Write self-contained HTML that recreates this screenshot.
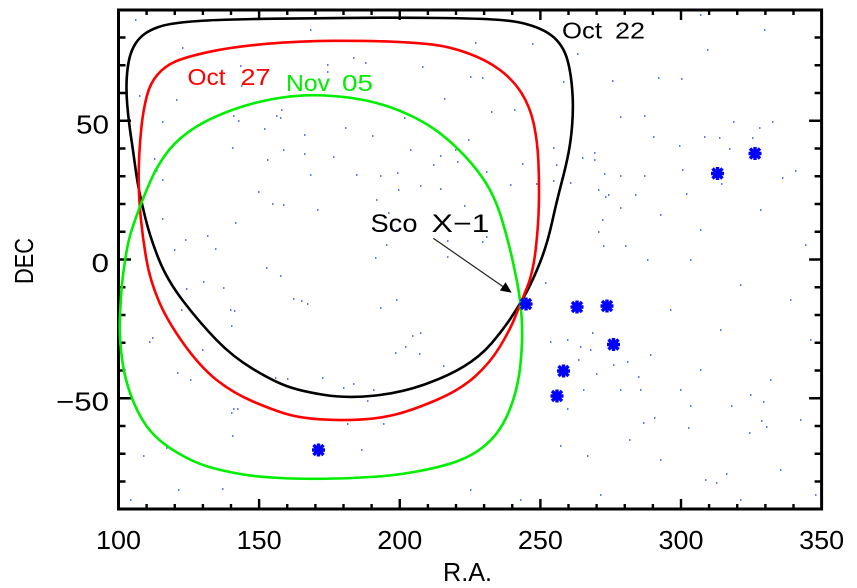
<!DOCTYPE html>
<html><head><meta charset="utf-8"><style>
html,body{margin:0;padding:0;background:#fff;}
svg{display:block;}
text{font-family:"Liberation Sans","DejaVu Sans",sans-serif;}
</style></head><body>
<svg width="857" height="588" viewBox="0 0 857 588" xmlns="http://www.w3.org/2000/svg">
<rect width="857" height="588" fill="#fff"/>
<defs>
<g id="st" stroke="#0000ff" stroke-width="3.4" fill="none">
<path d="M-6.5 0h13M0 -6.5v13M-5 -5l10 10M-5 5l10 -10"/>
</g>
</defs>
<!-- background dots -->
<path stroke="#4a66ff" stroke-width="1.7" fill="none" d="M182 48h1.5M139 96h1.5M176 100h1.5M162 122h1.5M240 66h1.5M241 86h1.5M233 116h1.5M238 121h1.5M281 110h1.5M276 116h1.5M280 118h1.5M264 129h1.5M232 148h1.5M283 150h1.5M267 160h1.5M154 159h1.5M156 171h1.5M162 180h1.5M143 456h1.5M166 448h1.5M222 489h1.5M231 413h1.5M233 409h1.5M237 409h1.5M232 436h1.5M560 446h1.5M587 456h1.5M629 440h1.5M643 423h1.5M654 418h1.5M690 406h1.5M688 428h1.5M731 406h1.5M763 402h1.5M761 421h1.5M766 427h1.5M749 433h1.5M716 483h1.5M726 474h1.5M475 43h1.5M532 44h1.5M353 58h1.5M365 63h1.5M327 65h1.5M327 72h1.5M422 67h1.5M470 77h1.5M482 78h1.5M444 99h1.5M491 112h1.5M514 110h1.5M404 118h1.5M345 128h1.5M372 136h1.5M304 135h1.5M304 154h1.5M468 140h1.5M455 150h1.5M440 156h1.5M457 162h1.5M410 150h1.5M333 157h1.5M310 175h1.5M380 176h1.5M356 175h1.5M397 173h1.5M433 165h1.5M486 172h1.5M522 164h1.5M553 181h1.5M582 158h1.5M594 153h1.5M570 183h1.5M604 174h1.5M420 186h1.5M440 189h1.5M510 185h1.5M536 184h1.5M598 190h1.5M608 195h1.5M620 208h1.5M464 206h1.5M486 237h1.5M482 242h1.5M447 241h1.5M447 257h1.5M598 232h1.5M602 220h1.5M603 246h1.5M625 246h1.5M647 260h1.5M545 283h1.5M550 342h1.5M567 340h1.5M592 333h1.5M590 350h1.5M578 360h1.5M580 347h1.5M412 336h1.5M420 333h1.5M405 347h1.5M419 354h1.5M443 366h1.5M560 397h1.5M567 409h1.5M596 374h1.5M613 365h1.5M627 362h1.5M638 377h1.5M620 390h1.5M640 390h1.5M583 390h1.5M258 192h1.5M272 204h1.5M283 205h1.5M317 210h1.5M185 240h1.5M235 223h1.5M215 249h1.5M207 236h1.5M162 219h1.5M174 250h1.5M203 282h1.5M186 289h1.5M223 288h1.5M230 310h1.5M301 301h1.5M307 304h1.5M231 326h1.5M234 311h1.5M181 310h1.5M152 338h1.5M149 342h1.5M202 350h1.5M177 373h1.5M190 380h1.5M234 392h1.5M275 378h1.5M287 379h1.5M322 378h1.5M343 388h1.5M353 384h1.5M373 390h1.5M367 401h1.5M383 424h1.5M361 450h1.5M347 424h1.5M386 245h1.5M376 200h1.5M388 213h1.5M396 230h1.5M398 190h1.5M375 258h1.5M380 308h1.5M396 300h1.5M395 353h1.5M266 268h1.5M280 276h1.5M293 299h1.5M764 30h1.5M707 50h1.5M577 54h1.5M563 82h1.5M612 81h1.5M658 78h1.5M681 79h1.5M620 117h1.5M644 116h1.5M653 137h1.5M733 122h1.5M759 128h1.5M772 122h1.5M679 146h1.5M704 137h1.5M719 138h1.5M729 149h1.5M752 138h1.5M594 160h1.5M553 148h1.5M556 165h1.5M620 176h1.5M721 184h1.5M682 170h1.5M644 176h1.5M795 171h1.5M782 178h1.5M686 194h1.5M635 195h1.5M605 197h1.5M660 215h1.5M700 230h1.5M760 210h1.5M805 245h1.5M690 260h1.5M740 285h1.5M790 300h1.5M670 310h1.5M720 330h1.5M810 340h1.5M650 355h1.5M700 370h1.5M770 380h1.5M680 390h1.5M750 395h1.5M800 420h1.5M660 460h1.5M705 480h1.5M780 470h1.5M815 495h1.5M740 500h1.5M130 500h1.5M178 490h1.5M470 490h1.5M520 500h1.5M600 495h1.5M135 20h1.5M310 30h1.5M620 30h1.5M700 15h1.5"/>
<!-- frame -->
<rect x="118.5" y="10" width="703.1" height="499" fill="none" stroke="#000" stroke-width="3"/>
<!-- ticks -->
<path stroke="#000" stroke-width="2.4" fill="none" d="
M259.1 509v-10M399.75 509v-10M540.4 509v-10M681 509v-10
M146.6 509v-5M174.75 509v-5M202.9 509v-5M231 509v-5M287.25 509v-5M315.4 509v-5M343.5 509v-5M371.6 509v-5M427.9 509v-5M456 509v-5M484.1 509v-5M512.25 509v-5M568.5 509v-5M596.6 509v-5M624.75 509v-5M652.9 509v-5M709.1 509v-5M737.25 509v-5M765.4 509v-5M793.5 509v-5
M259.1 10v10M399.75 10v10M540.4 10v10M681 10v10
M146.6 10v5M174.75 10v5M202.9 10v5M231 10v5M287.25 10v5M315.4 10v5M343.5 10v5M371.6 10v5M427.9 10v5M456 10v5M484.1 10v5M512.25 10v5M568.5 10v5M596.6 10v5M624.75 10v5M652.9 10v5M709.1 10v5M737.25 10v5M765.4 10v5M793.5 10v5
M118.5 120.75h12.5M118.5 259.5h12.5M118.5 398.25h12.5
M118.5 37.5h7M118.5 65.25h7M118.5 93h7M118.5 148.5h7M118.5 176.25h7M118.5 204h7M118.5 231.75h7M118.5 287.25h7M118.5 315h7M118.5 342.75h7M118.5 370.5h7M118.5 426h7M118.5 453.75h7M118.5 481.5h7
M821.6 120.75h-12.5M821.6 259.5h-12.5M821.6 398.25h-12.5
M821.6 37.5h-7M821.6 65.25h-7M821.6 93h-7M821.6 148.5h-7M821.6 176.25h-7M821.6 204h-7M821.6 231.75h-7M821.6 287.25h-7M821.6 315h-7M821.6 342.75h-7M821.6 370.5h-7M821.6 426h-7M821.6 453.75h-7M821.6 481.5h-7"/>
<!-- tick labels -->
<g font-size="26" fill="#000" text-anchor="middle">
<text x="118.5" y="549" textLength="45" lengthAdjust="spacingAndGlyphs">100</text>
<text x="259.1" y="549" textLength="45" lengthAdjust="spacingAndGlyphs">150</text>
<text x="399.75" y="549" textLength="45" lengthAdjust="spacingAndGlyphs">200</text>
<text x="540.4" y="549" textLength="45" lengthAdjust="spacingAndGlyphs">250</text>
<text x="681" y="549" textLength="45" lengthAdjust="spacingAndGlyphs">300</text>
<text x="821.6" y="549" textLength="45" lengthAdjust="spacingAndGlyphs">350</text>
</g>
<g font-size="26" fill="#000" text-anchor="end">
<text x="109" y="133.5" textLength="33" lengthAdjust="spacingAndGlyphs">50</text>
<text x="109" y="272" textLength="17.5" lengthAdjust="spacingAndGlyphs">0</text>
<text x="109" y="410.5" textLength="53" lengthAdjust="spacingAndGlyphs">−50</text>
</g>
<text x="467.5" y="581" font-size="26" text-anchor="middle" textLength="49" lengthAdjust="spacingAndGlyphs">R.A.</text>
<text transform="translate(33,261) rotate(-90)" font-size="26" text-anchor="middle" textLength="46" lengthAdjust="spacingAndGlyphs">DEC</text>
<!-- curves -->
<path fill="none" stroke="#000" stroke-width="2.6" d="M127.25 105 Q126 90 126.75 78 Q127.5 66 129.5 58 Q131.5 50 135.25 44 Q139 38 144.5 34 Q150 30 158.5 27 Q167 24 183.5 22.25 Q200 20.5 225 19.75 Q250 19 275 18.65 Q300 18.3 350 17.9 Q400 17.5 440 18 Q480 18.5 497.5 19.75 Q515 21 526 24 Q537 27 544.5 31 Q552 35 557 40.5 Q562 46 565 53 Q568 60 570 71.5 Q572 83 572.65 96.5 Q573.3 110 572.15 125 Q571 140 568.5 153 Q566 166 561.5 183 Q557 200 552 222.5 Q547 245 540 262.5 Q533 280 526.85 291.5 Q520.7 303 511.85 316.5 Q503 330 491.5 343.35 Q480 356.7 463.35 366.7 Q446.7 376.7 423.35 384.85 Q400 393 373.35 395.75 Q346.7 398.5 323.35 394.75 Q300 391 286.5 386 Q273 381 253 369 Q233 357 216.5 340 Q200 323 183.5 301.5 Q167 280 158.5 258.5 Q150 237 145.5 218.5 Q141 200 139 190 Q137 180 135 165 Q133 150 130.75 135 Q128.5 120 127.25 105 Z"/>
<path fill="none" stroke="#ff0000" stroke-width="2.6" d="M139.25 155 Q140 140 141.65 125 Q143.3 110 146.65 96.65 Q150 83.3 157.5 74.65 Q165 66 175.85 61.35 Q186.7 56.7 210 51.7 Q233.3 46.7 266.65 43.85 Q300 41 333.35 40.85 Q366.7 40.7 391.7 41.7 Q416.7 42.7 433.35 44.7 Q450 46.7 468.35 53.35 Q486.7 60 500 70 Q513.3 80 521.65 93.35 Q530 106.7 533.65 123.35 Q537.3 140 538.3 160 Q539.3 180 538.9 202.5 Q538.5 225 535.75 249 Q533 273 526.85 288 Q520.7 303 515.35 316.5 Q510 330 500 346.5 Q490 363 475 376.5 Q460 390 436.5 400 Q413 410 396.5 414.25 Q380 418.5 360 419.6 Q340 420.7 320 419.35 Q300 418 286.5 414 Q273 410 253 401.5 Q233 393 216.5 379.85 Q200 366.7 183.35 343.35 Q166.7 320 158.35 300 Q150 280 146.5 260 Q143 240 141 220 Q139 200 138.75 185 Q138.5 170 139.25 155 Z"/>
<path fill="none" stroke="#00ee00" stroke-width="2.6" d="M282.5 97.5 Q300 95 316.5 95.25 Q333 95.5 350 97.75 Q367 100 383.5 105 Q400 110 416.5 118.5 Q433 127 446.5 138.5 Q460 150 471.5 163.5 Q483 177 490 190 Q497 203 502.5 221.5 Q508 240 512.25 259 Q516.5 278 518.6 290.5 Q520.7 303 521.6 316.5 Q522.5 330 522 342.5 Q521.5 355 520.25 366.5 Q519 378 516 390 Q513 402 508.5 412.5 Q504 423 498 431.5 Q492 440 482.5 447.5 Q473 455 459.85 460.25 Q446.7 465.5 423.35 470.25 Q400 475 375 476.75 Q350 478.5 325 478.75 Q300 479 280 478 Q260 477 246.5 475 Q233 473 216.5 469 Q200 465 185 457 Q170 449 160 440.5 Q150 432 143.5 421.5 Q137 411 132.5 399.5 Q128 388 125.25 376.5 Q122.5 365 121 350 Q119.5 335 119.75 324 Q120 313 120.85 299 Q121.7 285 123.35 272.5 Q125 260 127 249 Q129 238 132 229 Q135 220 138.5 210.5 Q142 201 146 191.5 Q150 182 153.5 174.5 Q157 167 165.15 155.15 Q173.3 143.3 186.65 133.3 Q200 123.3 216.65 116.15 Q233.3 109 249.15 104.5 Q265 100 282.5 97.5 Z"/>
<!-- stars -->
<use href="#st" x="526" y="304"/>
<use href="#st" x="577" y="307"/>
<use href="#st" x="607" y="306"/>
<use href="#st" x="613.5" y="344.5"/>
<use href="#st" x="563.5" y="371"/>
<use href="#st" x="557" y="396"/>
<use href="#st" x="318.5" y="450"/>
<use href="#st" x="717.5" y="173.5"/>
<use href="#st" x="755" y="153.5"/>
<!-- labels -->
<g font-size="23">
<text x="562" y="38.5" fill="#000" textLength="40" lengthAdjust="spacingAndGlyphs">Oct</text>
<text x="615" y="38.5" fill="#000" textLength="30" lengthAdjust="spacingAndGlyphs">22</text>
<text x="187.5" y="85" fill="#ff0000" textLength="38" lengthAdjust="spacingAndGlyphs">Oct</text>
<text x="240.5" y="85" fill="#ff0000" textLength="30" lengthAdjust="spacingAndGlyphs">27</text>
<text x="286" y="91" fill="#00ee00" textLength="44" lengthAdjust="spacingAndGlyphs">Nov</text>
<text x="342" y="91" fill="#00ee00" textLength="31" lengthAdjust="spacingAndGlyphs">05</text>
</g>
<g font-size="25" fill="#000">
<text x="370.5" y="232" textLength="47" lengthAdjust="spacingAndGlyphs">Sco</text>
<text x="431.5" y="232" textLength="58" lengthAdjust="spacingAndGlyphs">X−1</text>
</g>
<!-- arrow -->
<line x1="433.3" y1="238.3" x2="503" y2="286.6" stroke="#222" stroke-width="1.2"/>
<polygon points="511.7,292.7 499.9,290.5 505.6,282.3" fill="#000"/>
</svg>
</body></html>
